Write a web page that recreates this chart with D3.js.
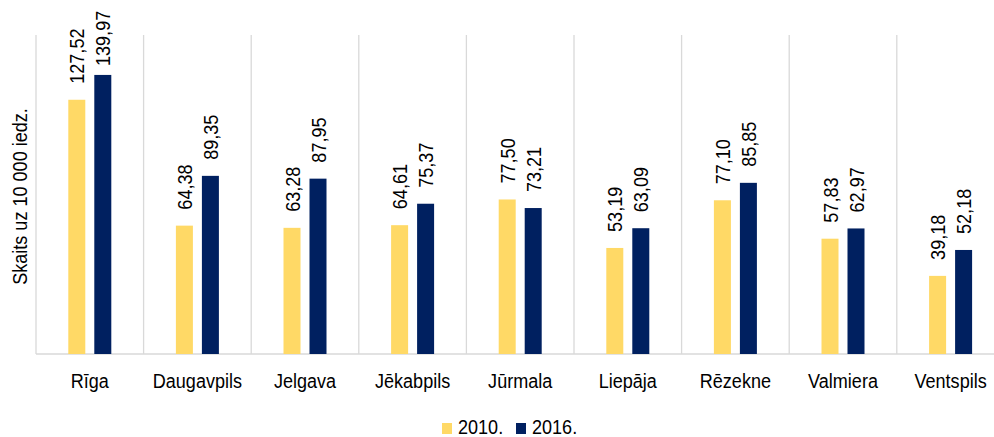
<!DOCTYPE html>
<html><head><meta charset="utf-8">
<script src="https://cdn.jsdelivr.net/npm/d3@7"></script>
<style>
html,body{margin:0;padding:0;background:#fff;}
text{font-family:"Liberation Sans",Arial,sans-serif;fill:#000;}
</style></head>
<body><svg id="c" width="994" height="437"></svg>
<script>
const categories = ["Rīga","Daugavpils","Jelgava","Jēkabpils","Jūrmala","Liepāja","Rēzekne","Valmiera","Ventspils"];
const seriesNames = ["2010.","2016."];
const values2010 = [127.52,64.38,63.28,64.61,77.50,53.19,77.10,57.83,39.18];
const values2016 = [139.97,89.35,87.95,75.37,73.21,63.09,85.85,62.97,52.18];
const colors = ["#FFD966","#002060"];
const yTitle = "Skaits uz 10 000 iedz.";

const svg = d3.select("#c");
const plotLeft = 36, bandW = 107.6, plotTop = 35, plotBottom = 354;
const narrow = 0.86, fs = 21;
const x0 = d3.scaleBand().domain(categories).range([plotLeft, plotLeft + bandW*categories.length]).padding(0);
const x1 = d3.scaleBand().domain(seriesNames).range([0, 43]).paddingInner(0.346).paddingOuter(0);
const y = d3.scaleLinear().domain([0,160]).range([plotBottom, plotTop]);
const fmt = v => d3.format(".2f")(v).replace(".", ",");
const series = [values2010, values2016];

// vertical separators
const seps = d3.range(categories.length + 1).map(i => plotLeft + i*bandW);
svg.append("g").selectAll("line").data(seps).join("line")
  .attr("x1", d=>d).attr("x2", d=>d).attr("y1", plotTop).attr("y2", plotBottom)
  .attr("stroke", "#D9D9D9").attr("stroke-width", 1.3);
// baseline
svg.append("line").attr("x1", plotLeft).attr("x2", 994).attr("y1", plotBottom).attr("y2", plotBottom)
  .attr("stroke", "#D9D9D9").attr("stroke-width", 1.5);

const off = (bandW - 43)/2;
const data = [];
categories.forEach((c,i) => seriesNames.forEach((s,j) => data.push({c, s, j, v: series[j][i]})));

const g = svg.append("g");
g.selectAll("rect").data(data).join("rect")
  .attr("x", d => x0(d.c) + off + x1(d.s))
  .attr("y", d => y(d.v))
  .attr("width", x1.bandwidth())
  .attr("height", d => plotBottom - y(d.v))
  .attr("fill", d => colors[d.j]);

g.selectAll("text.lbl").data(data).join("text").attr("class","lbl")
  .attr("transform", d => `translate(${x0(d.c) + off + x1(d.s) + x1.bandwidth()/2},${Math.max(y(d.v) - 16, 66)}) rotate(-90) scale(${narrow},1)`)
  .attr("dy", "0.36em")
  .attr("font-size", fs)
  .text(d => fmt(d.v));

// category labels
svg.append("g").selectAll("text").data(categories).join("text")
  .attr("transform", d => `translate(${x0(d) + bandW/2},388) scale(${narrow},1)`)
  .attr("text-anchor", "middle").attr("font-size", fs)
  .text(d => d);

// y title
svg.append("text").attr("transform", `translate(27,${(plotTop+plotBottom)/2 + 2}) rotate(-90) scale(${narrow},1)`)
  .attr("text-anchor","middle").attr("font-size", fs).text(yTitle);

// legend
const lx = [442, 516];
const lg = svg.append("g");
seriesNames.forEach((s,j) => {
  lg.append("rect").attr("x", lx[j]).attr("y", 423).attr("width", 10).attr("height", 11).attr("fill", colors[j]);
  lg.append("text").attr("transform", `translate(${lx[j] + 16},434) scale(${narrow},1)`).attr("font-size", fs).text(s);
});
</script></body></html>
